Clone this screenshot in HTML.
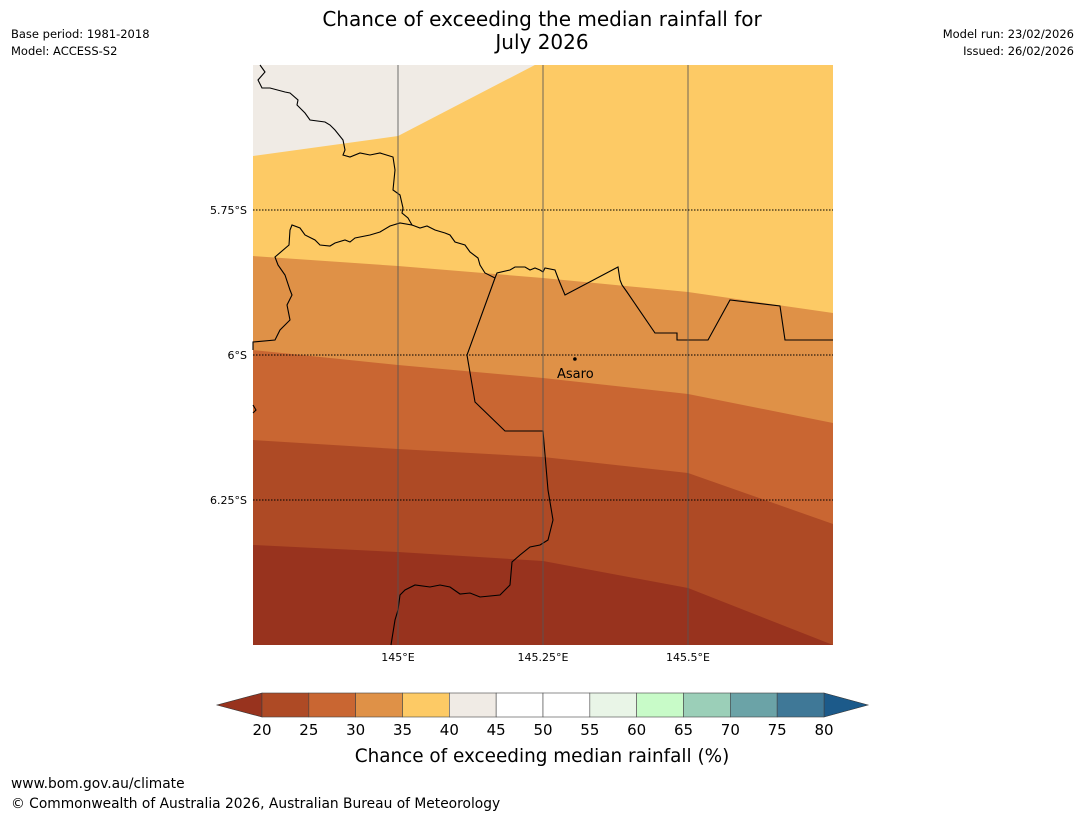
<!DOCTYPE html>
<html><head><meta charset="utf-8">
<style>
body{margin:0;background:#fff;width:1085px;height:816px;overflow:hidden;font-family:"DejaVu Sans","Liberation Sans",sans-serif;}
svg{position:absolute;left:0;top:0}
</style></head>
<body>
<svg id="chart" width="1085" height="816">
<text x="542" y="26" text-anchor="middle" font-size="20">Chance of exceeding the median rainfall for</text>
<text x="542" y="49" text-anchor="middle" font-size="20">July 2026</text>
<text x="11" y="38" font-size="11.5">Base period: 1981-2018</text>
<text x="11" y="55" font-size="11.5">Model: ACCESS-S2</text>
<text x="1074" y="38" font-size="11.5" text-anchor="end">Model run: 23/02/2026</text>
<text x="1074" y="55" font-size="11.5" text-anchor="end">Issued: 26/02/2026</text>
<g id="map"></g>
<g id="cbar"></g>
<text x="542" y="762" text-anchor="middle" font-size="18.4">Chance of exceeding median rainfall (%)</text>
<text x="11" y="788" font-size="13.8">www.bom.gov.au/climate</text>
<text x="11" y="808" font-size="13.8">© Commonwealth of Australia 2026, Australian Bureau of Meteorology</text>
</svg>
<script>
const NS="http://www.w3.org/2000/svg";
// data
const lons=[144.75,145,145.25,145.5,145.75];
const lonTicks=[145,145.25,145.5];
const lonTickLabels=["145°E","145.25°E","145.5°E"];
const latTicks=[5.75,6,6.25];
const latTickLabels=["5.75°S","6°S","6.25°S"];
// contour boundary latitudes (°S) at each lon
const b40=[5.6569,5.6224,5.5,5.5,5.5];
const b35=[5.8293,5.8466,5.8672,5.8914,5.9276];
const b30=[5.9914,6.0172,6.0397,6.0672,6.1172];
const b25=[6.1466,6.1621,6.1759,6.2034,6.2914];
const b20=[6.3276,6.3397,6.3552,6.4017,6.5];
const bandLevels=["20","25","30","35"];
const cbLevels=[20,25,30,35,40,45,50,55,60,65,70,75,80];
const cbColors=["#ae4a25","#c96632","#df9147","#fdca65","#f0ebe5","#ffffff","#ffffff","#e9f5e7","#c8fbc8","#9bcfb8","#6ba3a7","#3f7897"];
const underColor="#98331e", overColor="#1c5a8a";
// axes
const X0=253,X1=833,Y0=65,Y1=645;
const lonMin=144.75,lonMax=145.75,latMin=5.5,latMax=6.5;
const xs=l=>X0+(l-lonMin)/(lonMax-lonMin)*(X1-X0);
const ys=l=>Y0+(l-latMin)/(latMax-latMin)*(Y1-Y0);
const map=document.getElementById('map');
function mk(t,a,p){const e=document.createElementNS(NS,t);for(const k in a)e.setAttribute(k,a[k]);(p||map).appendChild(e);return e;}
let bg=mk('rect',{x:X0,y:Y0,width:X1-X0,height:Y1-Y0,fill:"#fdca65"});


// beige 40-45 (above b40 line; top edge crossing at 145.236)
let bz=mk('polygon',{points:`${X0},${Y0} ${xs(145.236)},${Y0} ${xs(lons[1])},${ys(b40[1])} ${X0},${ys(b40[0])}`,fill:"#f0ebe5"});


const bounds=[b35,b30,b25,b20];
const bandCols=["#df9147","#c96632","#ae4a25","#98331e"];
bounds.forEach((b,i)=>{
 let pts=lons.map((l,j)=>`${xs(l)},${ys(b[j])}`).join(' ');
 pts+=` ${X1},${Y1} ${X0},${Y1}`;
 let p=mk('polygon',{points:pts,fill:bandCols[i]});
 
 
});
const border1="M260,65 L265,72 L258,80 L262,88 L270,88 L285,92 L290,93 L298,100 L297,105 L305,113 L310,120 L325,122 L330,125 L335,130 L343,140 L345,150 L343,155 L350,157 L360,153 L370,155 L380,153 L393,157 L395,170 L393,190 L400,195 L403,208 L402,213 L408,218 L412,225 L400,223 L390,226 L380,232 L370,235 L355,238 L350,242 L345,240 L335,243 L330,246 L320,245 L315,240 L305,235 L300,228 L292,225 L290,230 L289,245 L275,257 L278,265 L285,275 L290,290 L292,295 L287,305 L290,320 L280,330 L275,340 L253,342 L253,350";
const border2="M412,225 L420,228 L427,226 L435,230 L445,233 L450,235 L455,242 L465,245 L470,252 L478,258 L480,265 L485,273 L495,278 L497,273 L510,270 L515,267 L525,267 L530,270 L535,268 L540,270 L543,272 L545,268 L555,270 L558,278 L560,283 L565,295 L618,267 L620,280 L622,285 L627,292 L655,333 L677,333 L677,340 L708,340 L730,300 L780,306 L785,340 L833,340";
const border3="M495,278 L467,355 L475,402 L505,431 L543,431 L548,490 L553,520 L548,540 L540,545 L530,547 L520,555 L512,562 L510,585 L500,595 L480,597 L470,593 L460,594 L450,587 L440,585 L430,587 L415,585 L405,590 L400,595 L398,610 L395,620 L391,645";
[border1,border2,border3,"M253,405 L256,410 L253,413"].forEach((d,i)=>{
 let p=mk('path',{d:d,fill:"none",stroke:"#000","stroke-width":1.1});
 
 
});
lonTicks.forEach((l,i)=>{
 let ln=mk('line',{x1:xs(l),x2:xs(l),y1:Y0,y2:Y1,stroke:"#555","stroke-opacity":0.7,"stroke-width":1.2});
 
 
 let t=mk('text',{x:xs(l),y:Y1+16,"text-anchor":"middle","font-size":11});
 t.textContent=lonTickLabels[i];
 
 
});
latTicks.forEach((l,i)=>{
 let ln=mk('line',{x1:X0,x2:X1,y1:ys(l),y2:ys(l),stroke:"#000","stroke-width":1,"stroke-dasharray":"1.5,1.5"});
 
 
 let t=mk('text',{x:X0-6,y:ys(l)+4,"text-anchor":"end","font-size":11});
 t.textContent=latTickLabels[i];
 
 
});
let dot=mk('circle',{cx:xs(145.305),cy:ys(6.0069),r:1.8,fill:"#000"});


let lab=mk('text',{x:557,y:378,"font-size":13});
lab.textContent="Asaro";


const cb=document.getElementById('cbar');
const C0=262,C1=824,CY=693,CH=24;
const cx=v=>C0+(v-20)/60*(C1-C0);
let ut=mk('polygon',{points:`${C0},${CY} ${C0},${CY+CH} 217,${CY+CH/2}`,fill:underColor,stroke:"#333","stroke-width":0.6},cb);


let ot=mk('polygon',{points:`${C1},${CY} ${C1},${CY+CH} 868,${CY+CH/2}`,fill:overColor,stroke:"#333","stroke-width":0.6},cb);


cbColors.forEach((c,i)=>{
 let r=mk('rect',{x:cx(cbLevels[i]),y:CY,width:cx(cbLevels[i+1])-cx(cbLevels[i]),height:CH,fill:c,stroke:"#444","stroke-width":0.6},cb);
 
 
});
cbLevels.forEach(v=>{
 let t=mk('text',{x:cx(v),y:CY+CH+18,"text-anchor":"middle","font-size":15},cb);
 t.textContent=v;
 
 
});
</script>
</body></html>
